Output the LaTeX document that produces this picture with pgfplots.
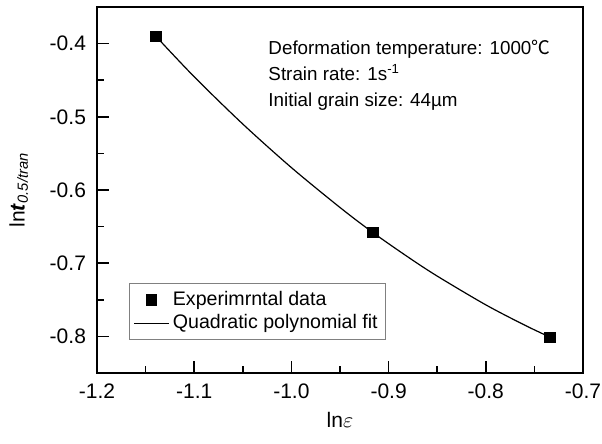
\documentclass[border=0pt]{standalone}
\usepackage{fontspec}
\setmainfont{Liberation Sans}
\newfontfamily\cjk{Noto Sans CJK SC}
\usepackage{pgfplots}
\pgfplotsset{compat=1.18}
\begin{document}
\begin{tikzpicture}
\begin{axis}[
  scale only axis, width=243pt, height=183pt,
  xmin=-1.2, xmax=-0.7, ymin=-0.85, ymax=-0.35,
  xtick={-1.2,-1.1,-1.0,-0.9,-0.8,-0.7},
  ytick={-0.8,-0.7,-0.6,-0.5,-0.4},
  minor x tick num=1, minor y tick num=1,
  xtick pos=left, ytick pos=left, tick align=inside,
  major tick length=5.8pt, minor tick length=3.3pt,
  axis line style={line width=0.8pt},
  every tick/.style={black, line width=0.8pt},
  /pgf/number format/.cd, fixed, fixed zerofill, precision=1, assume math mode=true,
  /pgfplots/.cd,
  tick label style={font=\fontsize{10.5}{12}\selectfont},
  xticklabel style={yshift=-2pt},
  yticklabel style={xshift=-2pt},
  xlabel={ln$\varepsilon$},
  ylabel={ln\textbf{\textit{t}}\textsubscript{\textit{0.5/tran}}},
  ylabel style={yshift=4pt},
  label style={font=\fontsize{10.5}{12}\selectfont},
  legend style={at={(0.066,0.246)}, anchor=north west, draw=gray, line width=0.5pt,
    font=\fontsize{9.8}{11.5}\selectfont, row sep=-1pt, inner sep=2pt},
  legend cell align=left,
]
\addplot[only marks, mark=square*, mark size=2.6pt, black] coordinates {
  (-1.1394,-0.390) (-0.9163,-0.658) (-0.7340,-0.801)
};
\addlegendentry{Experimrntal data}
\addplot[black, line width=0.6pt, smooth, no marks] coordinates {
  (-1.1394,-0.390) (-1.10,-0.4453) (-1.05,-0.5099) (-1.00,-0.5694) (-0.95,-0.6239)
  (-0.9163,-0.658) (-0.88,-0.6916) (-0.85,-0.7176) (-0.80,-0.7569) (-0.76,-0.7846) (-0.7340,-0.801)
};
\addlegendentry{Quadratic polynomial fit}
\node[anchor=north west, align=left, font=\fontsize{9.4}{13}\selectfont, inner sep=0pt]
  at (rel axis cs:0.352,0.91) {Deformation temperature: 1000{\cjk\char"2103}\\
  Strain rate: 1s\textsuperscript{-1}\\
  Initial grain size: 44\textmu m};
\coordinate (sw) at (rel axis cs:0,0);
\coordinate (ne) at (rel axis cs:1,1);
\end{axis}
\pgfresetboundingbox
\path ([shift={(-48.5pt,-35pt)}]sw) rectangle ([shift={(9.5pt,3.5pt)}]ne);
\end{tikzpicture}
\end{document}
